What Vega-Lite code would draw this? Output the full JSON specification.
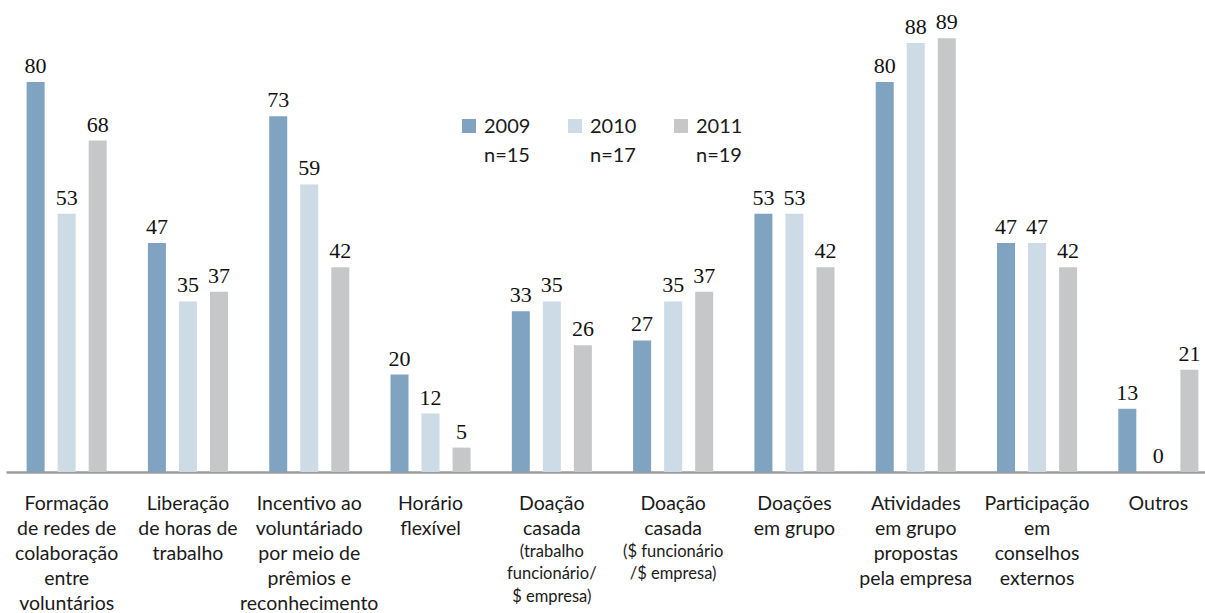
{
  "$schema": "https://vega.github.io/schema/vega-lite/v6.json",
  "width": 1213,
  "height": 468,
  "autosize": {"type": "none"},
  "padding": {"left": 6, "top": 4, "right": 0, "bottom": 160},
  "background": "white",
  "config": {"view": {"stroke": null}, "font": "Lato"},
  "data": {
    "values": [
      {"cat": "Formação|de redes de|colaboração|entre|voluntários", "serie": "2009|n=15", "v": 80},
      {"cat": "Formação|de redes de|colaboração|entre|voluntários", "serie": "2010|n=17", "v": 53},
      {"cat": "Formação|de redes de|colaboração|entre|voluntários", "serie": "2011|n=19", "v": 68},
      {"cat": "Liberação|de horas de|trabalho", "serie": "2009|n=15", "v": 47},
      {"cat": "Liberação|de horas de|trabalho", "serie": "2010|n=17", "v": 35},
      {"cat": "Liberação|de horas de|trabalho", "serie": "2011|n=19", "v": 37},
      {"cat": "Incentivo ao|voluntáriado|por meio de|prêmios e|reconhecimento", "serie": "2009|n=15", "v": 73},
      {"cat": "Incentivo ao|voluntáriado|por meio de|prêmios e|reconhecimento", "serie": "2010|n=17", "v": 59},
      {"cat": "Incentivo ao|voluntáriado|por meio de|prêmios e|reconhecimento", "serie": "2011|n=19", "v": 42},
      {"cat": "Horário|flexível", "serie": "2009|n=15", "v": 20},
      {"cat": "Horário|flexível", "serie": "2010|n=17", "v": 12},
      {"cat": "Horário|flexível", "serie": "2011|n=19", "v": 5},
      {"cat": "Doação|casada#(trabalho|funcionário/|$ empresa)", "serie": "2009|n=15", "v": 33},
      {"cat": "Doação|casada#(trabalho|funcionário/|$ empresa)", "serie": "2010|n=17", "v": 35},
      {"cat": "Doação|casada#(trabalho|funcionário/|$ empresa)", "serie": "2011|n=19", "v": 26},
      {"cat": "Doação|casada#($ funcionário|/$ empresa)", "serie": "2009|n=15", "v": 27},
      {"cat": "Doação|casada#($ funcionário|/$ empresa)", "serie": "2010|n=17", "v": 35},
      {"cat": "Doação|casada#($ funcionário|/$ empresa)", "serie": "2011|n=19", "v": 37},
      {"cat": "Doações|em grupo", "serie": "2009|n=15", "v": 53},
      {"cat": "Doações|em grupo", "serie": "2010|n=17", "v": 53},
      {"cat": "Doações|em grupo", "serie": "2011|n=19", "v": 42},
      {"cat": "Atividades|em grupo|propostas|pela empresa", "serie": "2009|n=15", "v": 80},
      {"cat": "Atividades|em grupo|propostas|pela empresa", "serie": "2010|n=17", "v": 88},
      {"cat": "Atividades|em grupo|propostas|pela empresa", "serie": "2011|n=19", "v": 89},
      {"cat": "Participação|em|conselhos|externos", "serie": "2009|n=15", "v": 47},
      {"cat": "Participação|em|conselhos|externos", "serie": "2010|n=17", "v": 47},
      {"cat": "Participação|em|conselhos|externos", "serie": "2011|n=19", "v": 42},
      {"cat": "Outros", "serie": "2009|n=15", "v": 13},
      {"cat": "Outros", "serie": "2010|n=17", "v": 0},
      {"cat": "Outros", "serie": "2011|n=19", "v": 21}
    ]
  },
  "encoding": {
    "xOffset": {"field": "serie", "type": "nominal", "scale": {"paddingInner": 0.42, "paddingOuter": 0}},
    "y": {"field": "v", "type": "quantitative", "scale": {"domain": [0, 96]}, "axis": null}
  },
  "layer": [
    {
      "mark": {"type": "bar"},
      "encoding": {
        "x": {
          "field": "cat", "type": "nominal", "sort": null,
          "scale": {"paddingInner": 0.34, "paddingOuter": 0.17},
          "axis": {
            "title": null, "orient": "bottom", "domain": true, "domainColor": "#9c9c9c", "domainWidth": 2.5,
            "ticks": false, "labelAngle": 0, "labelOverlap": false, "labelLimit": 400,
            "labelExpr": "split(split(datum.label, '#')[0], '|')",
            "labelFont": "Lato", "labelFontSize": 19.5, "labelLineHeight": 25, "labelPadding": 22,
            "labelBaseline": "top", "labelColor": "#1a1a1a"
          }
        },
        "color": {
          "field": "serie", "type": "nominal",
          "scale": {"domain": ["2009|n=15", "2010|n=17", "2011|n=19"], "range": ["#7fa3c0", "#cddbe6", "#c6c7c9"]},
          "legend": {
            "title": null, "orient": "none", "legendX": 453, "legendY": 112, "direction": "horizontal",
            "symbolType": "square", "symbolSize": 196, "symbolStrokeWidth": 0,
            "labelFont": "Lato", "labelFontSize": 20, "labelColor": "#1a1a1a",
            "labelExpr": "split(datum.label, '|')", "labelBaseline": "top", "labelOffset": 5,
            "columnPadding": 34, "gridAlign": "all", "padding": 0,
            "encode": {"labels": {"update": {"dy": {"value": -9}, "lineHeight": {"value": 29}}}}
          }
        }
      }
    },
    {
      "mark": {"type": "text", "baseline": "bottom", "dy": -4, "font": "Liberation Serif", "fontSize": 22, "color": "#111111"},
      "encoding": {
        "x": {
          "field": "cat", "type": "nominal", "sort": null,
          "scale": {"paddingInner": 0.34, "paddingOuter": 0.17},
          "axis": {
            "title": null, "orient": "bottom", "domain": false, "ticks": false, "labelAngle": 0,
            "labelOverlap": false, "labelLimit": 400,
            "labelExpr": "length(split(datum.label, '#')) > 1 ? split(split(datum.label, '#')[1], '|') : ''",
            "labelFont": "Lato", "labelFontSize": 16.5, "labelLineHeight": 22.5, "labelPadding": 71,
            "labelBaseline": "top", "labelColor": "#1a1a1a"
          }
        },
        "text": {"field": "v", "type": "quantitative"}
      }
    }
  ],
  "resolve": {"axis": {"x": "independent"}}
}
